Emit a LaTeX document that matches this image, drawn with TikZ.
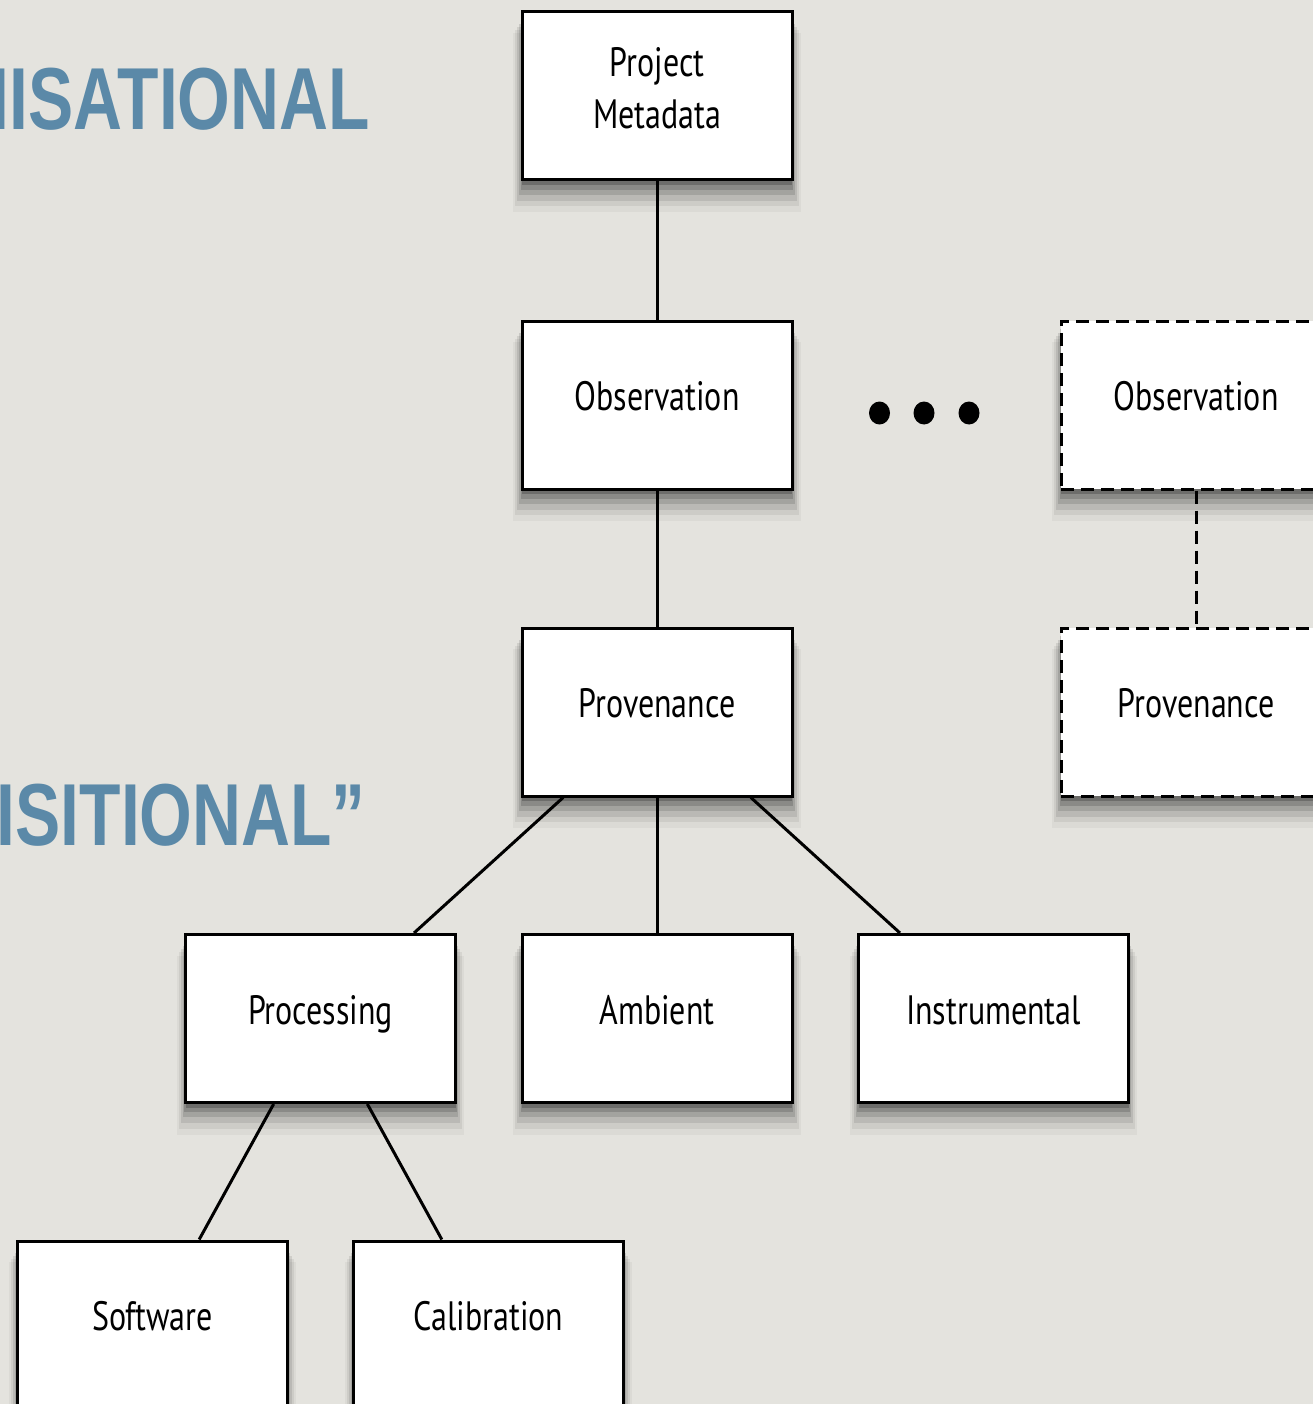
\documentclass[tikz,border=0pt]{standalone}
\usepackage{fontspec}
\setmainfont{PT Sans}[FakeStretch=0.78]
\newfontfamily\headfont{Liberation Sans}[FakeStretch=0.77]
\usetikzlibrary{shadows}
\definecolor{bg}{RGB}{228,227,222}
\definecolor{headblue}{RGB}{91,137,168}
\newcommand{\boxfont}{\fontsize{41pt}{52pt}\selectfont}
\begin{document}
\begin{tikzpicture}[x=1pt,y=-1pt,
  softshadow/.style={
    general shadow={shadow yshift=-5pt, shadow scale=1.00, fill=black, opacity=0.20},
    general shadow={shadow yshift=-9pt, shadow scale=1.01, fill=black, opacity=0.15},
    general shadow={shadow yshift=-13pt, shadow scale=1.02, fill=black, opacity=0.12},
    general shadow={shadow yshift=-17pt, shadow scale=1.035, fill=black, opacity=0.09},
    general shadow={shadow yshift=-21pt, shadow scale=1.05, fill=black, opacity=0.06},
    general shadow={shadow yshift=-25pt, shadow scale=1.065, fill=black, opacity=0.04}},
  box/.style={draw=black, line width=3pt, fill=white, minimum width=270pt,
    minimum height=168pt, inner sep=0pt, softshadow},
  dbox/.style={box, dash pattern=on 13pt off 7pt},
  boxtext/.style={font=\boxfont, text height=30pt, text depth=9pt, yshift=5pt, inner sep=0pt},
  conn/.style={draw=black, line width=3pt},
  dconn/.style={conn, dash pattern=on 13pt off 7pt},
  head/.style={anchor=base east, inner sep=0pt, text=headblue,
    font=\headfont\bfseries\fontsize{88pt}{90pt}\selectfont},
  dot/.style={fill=black}
]
\clip (0,0) rectangle (1313,1404);
\fill[bg] (0,0) rectangle (1313,1404);

% headings (cut by the left edge, as in the reference)
\node[head] (h1) at (370,130) {NISATIONAL};
\node[head] (h2) at (366,845) {UISITIONAL”};

% boxes
\node[box, label={[font=\boxfont, align=center, yshift=8pt, inner sep=0pt]center:Project\\Metadata}] (pm) at (657,96) {};
\node[box, label={[boxtext]center:Observation}] (obs) at (657,405) {};
\node[box, label={[boxtext]center:Provenance}] (prov) at (657,712) {};
\node[box, label={[boxtext]center:Processing}] (proc) at (320.5,1018.5) {};
\node[box, label={[boxtext]center:Ambient}] (amb) at (657,1018.5) {};
\node[box, label={[boxtext]center:Instrumental}] (inst) at (993.5,1018.5) {};
\node[box, label={[boxtext]center:Software}] (soft) at (152.5,1325) {};
\node[box, label={[boxtext]center:Calibration}] (cal) at (488.5,1325) {};
\node[dbox, label={[boxtext]center:Observation}] (obs2) at (1196,405) {};
\node[dbox, label={[boxtext]center:Provenance}] (prov2) at (1196,712) {};

% connectors
\path[conn] (pm) -- (obs);
\path[conn] (obs) -- (prov);
\path[conn] (prov) -- (proc);
\path[conn] (prov) -- (amb);
\path[conn] (prov) -- (inst);
\path[conn] (proc) -- (soft);
\path[conn] (proc) -- (cal);
\path[dconn] (obs2) -- (prov2);

% ellipsis dots
\fill[dot] (879.5,413) ellipse [x radius=10.5pt, y radius=11.5pt];
\fill[dot] (924,413) ellipse [x radius=10.5pt, y radius=11.5pt];
\fill[dot] (969,413) ellipse [x radius=10.5pt, y radius=11.5pt];
\end{tikzpicture}
\end{document}
